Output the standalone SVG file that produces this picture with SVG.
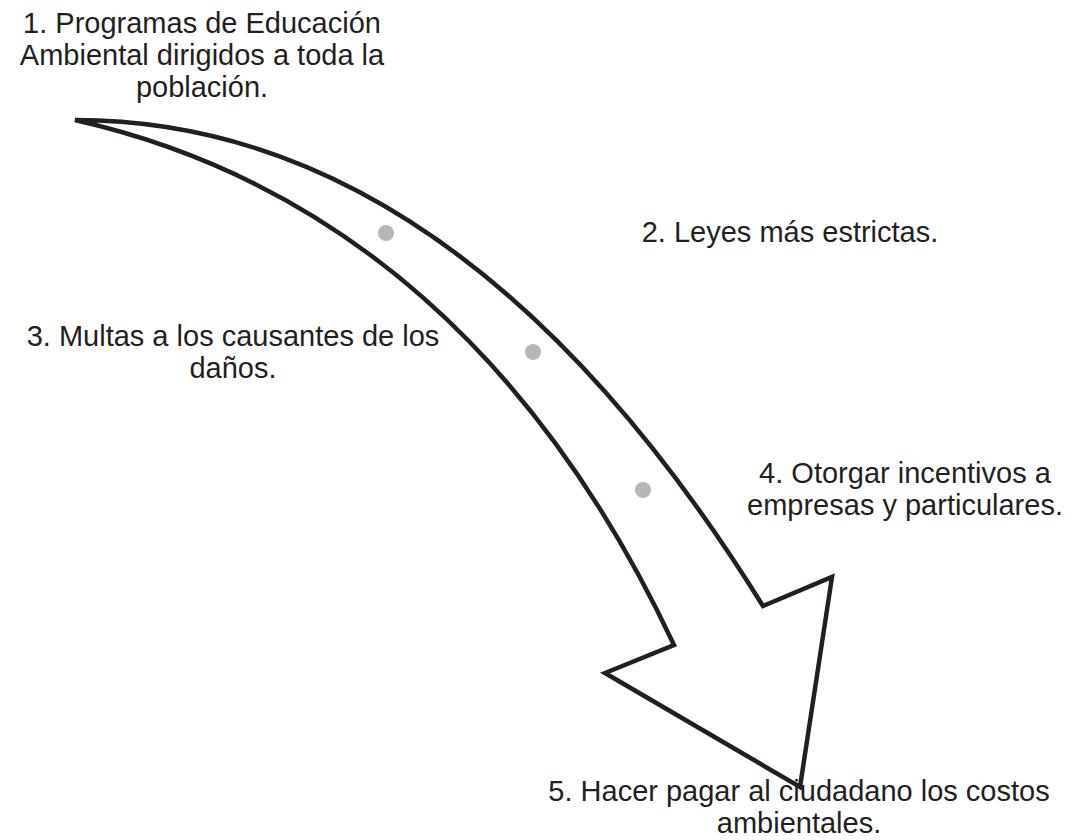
<svg xmlns="http://www.w3.org/2000/svg" width="1078" height="840" viewBox="0 0 1078 840">
<style>
text{font-family:"Liberation Sans",Arial,sans-serif;font-size:29px;fill:#231f20;text-anchor:middle}
.arrow{fill:#fff;stroke:#231f20;stroke-width:4.5;stroke-linejoin:miter;stroke-linecap:round}
.dot{fill:#b5b6ba}
</style>
<rect width="1078" height="840" fill="#fff"/>
<g id="connectors">
<path class="arrow" d="M75,120 C330,120 560,280 763,606 L832,577 L800,787 L605,673 L674,645 C540,360 340,180 75,120 Z"/>
<circle class="dot" cx="386" cy="233" r="8"/>
<circle class="dot" cx="533" cy="352" r="8"/>
<circle class="dot" cx="643" cy="490" r="8"/>
</g>
<g id="n1"><text x="202" y="33">1. Programas de Educación</text><text x="202" y="65">Ambiental dirigidos a toda la</text><text x="202" y="97">población.</text></g>
<g id="n2"><text x="790" y="242">2. Leyes más estrictas.</text></g>
<g id="n3"><text x="233" y="346">3. Multas a los causantes de los</text><text x="233" y="378">daños.</text></g>
<g id="n4"><text x="905" y="483">4. Otorgar incentivos a</text><text x="905" y="515">empresas y particulares.</text></g>
<g id="n5"><text x="799" y="801">5. Hacer pagar al ciudadano los costos</text><text x="799" y="833">ambientales.</text></g>
</svg>
